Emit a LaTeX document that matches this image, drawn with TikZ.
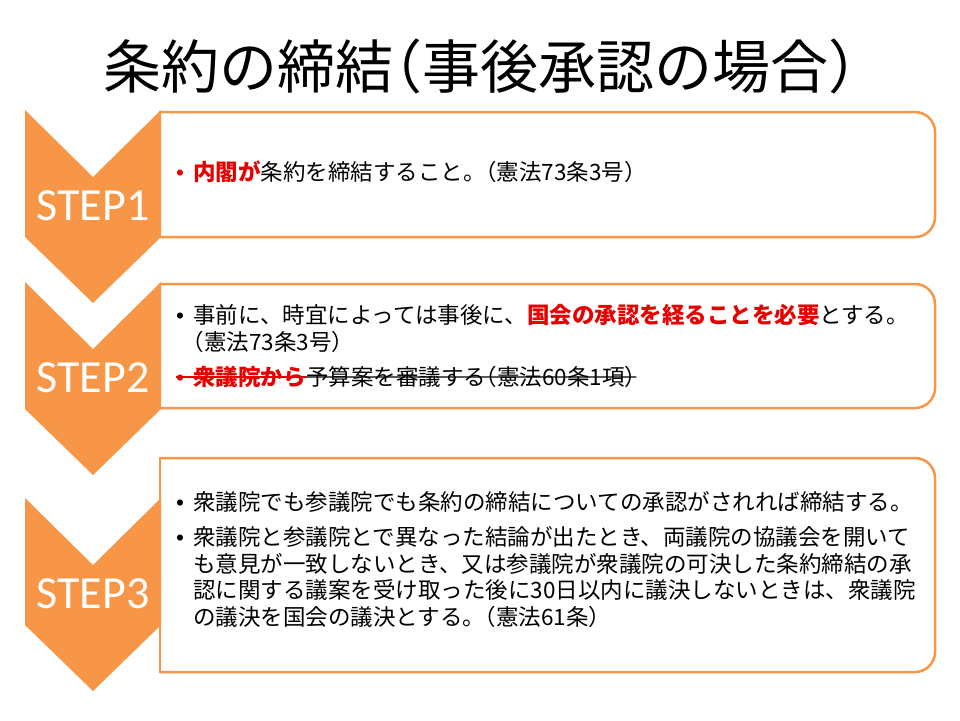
\documentclass[tikz,border=0pt]{standalone}
\usepackage{fontspec}
\setmainfont{Noto Sans CJK JP}
\newfontfamily\stepfont{Carlito}
\newfontfamily\bulletfont{Liberation Sans}
\usetikzlibrary{calc}
\definecolor{steporange}{RGB}{247,150,70}
\definecolor{keyred}{RGB}{232,0,0}
\newcommand{\bodysize}{\fontsize{22.5}{27}\selectfont}
\newcommand{\key}[1]{\textcolor{keyred}{\bfseries #1}}
\newcommand{\lkakko}{{\addfontfeature{RawFeature=+halt}（}}
\newcommand{\rkakko}{{\addfontfeature{RawFeature=+halt}）}}
\tikzset{
    chevron/.style = {fill=steporange, draw=none},
    stepbox/.style = {draw=steporange, line width=2.5pt, rounded corners=20pt},
    steplabel/.style = {text=white, inner sep=0pt,
        font=\stepfont\fontsize{46}{46}\selectfont},
    txtline/.style = {anchor=base west, inner sep=0pt, font=\bodysize},
    bullet/.style = {anchor=base, inner sep=0pt, font=\bulletfont\bodysize},
    strike/.style = {line width=1.4pt}
}

\begin{document}
\begin{tikzpicture}[x=1pt, y=-1pt]
    \useasboundingbox (0,0) rectangle (960,720);
    \node [inner sep=0pt, font=\fontsize{58}{58}\selectfont] (title) at (480,66) {条約の締結\lkakko 事後承認の場合\rkakko};
    % boxes
    \foreach \i/\ya/\yb in {1/112/237,2/284/408,3/458/672}{
        \coordinate (box\i nw) at (160,\ya);
        \coordinate (box\i sw) at (160,\yb);
        \draw [stepbox, line cap=rect] (box\i nw) -- (box\i sw);
        \draw [stepbox] (box\i nw) -- (935,\ya) -- (935,\yb) -- (box\i sw);
    }
    % chevrons
    \foreach \i/\top in {1/110,2/282,3/498}{
        \fill [chevron] (25,\top) -- ++(68,67) -- ++(68,-67) -- ++(0,127)
            -- ++(-68,66) -- ++(-68,-66) -- cycle;
        \node [steplabel] (step\i) at (93,{\top+96}) {STEP\i};
    }
    % step 1
    \node [bullet, text=keyred] (b1) at (180,180.5) {•};
    \node [txtline] (t1) at (193,180.5) {\key{内閣が}条約を締結すること。\lkakko 憲法73条3号\rkakko};
    % step 2
    \node [bullet] (b2a) at (180,323.5) {•};
    \node [txtline] (t2a) at (193,323.5) {事前に、時宜によっては事後に、\key{国会の承認を経ることを必要}とする。};
    \node [txtline] (t2b) at (193,350.5) {\lkakko 憲法73条3号\rkakko};
    \node [bullet, text=keyred] (b2c) at (180,385.5) {•};
    \node [txtline] (t2cred) at (193,385.5) {\key{衆議院から}};
    \node [txtline] (t2c) at (t2cred.base east) {予算案を審議する\lkakko 憲法60条1項\rkakko};
    \draw [strike, keyred] (b2c.west |- t2cred.west) -- (t2cred.east);
    \draw [strike] (t2cred.east) -- (t2c.east);
    % step 3
    \node [bullet] (b3a) at (180,510.5) {•};
    \node [txtline] (t3a) at (193,510.5) {衆議院でも参議院でも条約の締結についての承認がされれば締結する。};
    \node [bullet] (b3b) at (180,545.5) {•};
    \foreach \txt [count=\i] in {衆議院と参議院とで異なった結論が出たとき、両議院の協議会を開いて,%
        も意見が一致しないとき、又は参議院が衆議院の可決した条約締結の承,%
        認に関する議案を受け取った後に30日以内に議決しないときは、衆議院,%
        の議決を国会の議決とする。\lkakko 憲法61条\rkakko}{
        \node [txtline] (t3b\i) at (193,{545.5+26.5*(\i-1)}) {\txt};
    }
\end{tikzpicture}
\end{document}
